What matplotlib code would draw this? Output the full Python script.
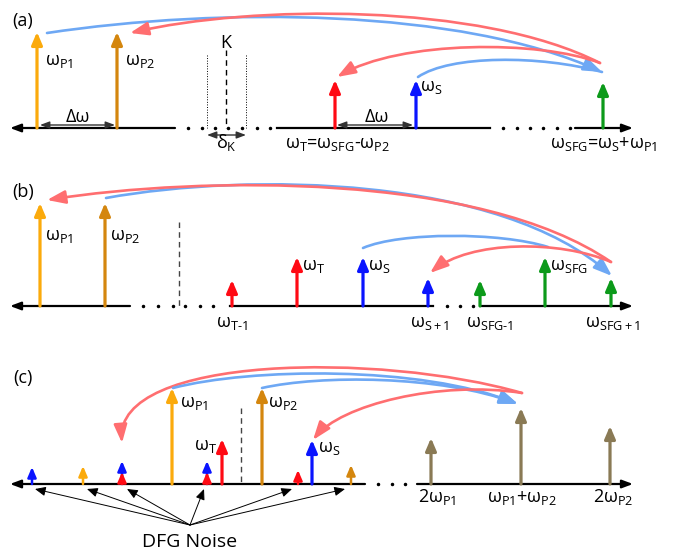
import matplotlib
matplotlib.use('Agg')
import matplotlib.pyplot as plt
from matplotlib.patches import FancyArrowPatch
from matplotlib.path import Path

plt.rcParams['font.family'] = ['Open Sans', 'DejaVu Sans']
plt.rcParams['mathtext.fontset'] = 'custom'
plt.rcParams['mathtext.rm'] = 'Open Sans'
plt.rcParams['mathtext.it'] = 'Open Sans'
plt.rcParams['mathtext.bf'] = 'Open Sans:bold'

# colours of the spectral components
cols = {'P1': '#FBAA0C', 'P2': '#D4860E', 'T': '#FF0A14', 'S': '#0A14FF',
        'SFG': '#0C9A1A', 'SHG': '#8A7A55'}
c_red = '#FF6E70'
c_blue = '#6EA8F4'

# ---- schematic data (picture coordinates, y grows downwards) ----
# panel (a)
a_base = 128
a_x = [37, 117, 335, 416, 603]
a_top = [32, 32, 80, 80, 82]
a_kind = ['P1', 'P2', 'T', 'S', 'SFG']
a_segs = [(175, 10), (277, 490), (575, 633)]
a_dots = [188, 202, 215, 228, 242, 257, 270, 503, 517, 530, 543, 557, 570]

# panel (b)
b_base = 306
b_x = [40, 105, 232, 297, 363, 428, 480, 545, 611]
b_top = [203, 203, 280, 257, 257, 278, 280, 257, 278]
b_kind = ['P1', 'P2', 'T', 'T', 'S', 'S', 'SFG', 'SFG', 'SFG']
b_segs = [(130, 10), (230, 433), (480, 633)]
b_dots = [143, 158, 173, 185, 200, 213, 447, 460, 473]

# panel (c)
c_base = 484
c_x = [172, 222, 262, 312, 431, 521, 610]
c_top = [388, 439, 388, 440, 438, 408, 426]
c_kind = ['P1', 'T', 'P2', 'S', 'SHG', 'SHG', 'SHG']
c_noise_x = [32, 83, 122, 122, 207, 207, 298, 351]
c_noise_top = [467, 466, 461, 472, 461, 472, 470, 465]
c_noise_kind = ['S', 'P1', 'S', 'T', 'S', 'T', 'T', 'P2']
c_segs = [(365, 10), (417, 633)]
c_dots = [378, 392, 405]
dfg_from = (190, 525)
dfg_to_x = [35, 87, 127, 204, 292, 345]
dfg_to_y = 489

# conversion arcs: start, control 1, control 2, end, colour, arrow head?
arcs = [
    # (a)
    ((47, 33), (220, 7), (460, 8), (602, 72), c_blue, True),
    ((600, 63), (480, 2), (250, 5), (130, 33), c_red, True),
    ((600, 63), (540, 40), (400, 40), (337, 77), c_red, True),
    ((418, 77), (450, 55), (540, 55), (602, 72), c_blue, False),
    # (b)
    ((106, 198), (250, 172), (500, 176), (612, 276), c_blue, True),
    ((611, 262), (480, 172), (200, 176), (47, 200), c_red, True),
    ((363, 248), (400, 232), (500, 232), (548, 247), c_blue, False),
    ((611, 262), (560, 240), (470, 240), (430, 273), c_red, True),
    # (c)
    ((522, 393), (380, 352), (115, 355), (122, 443), c_red, True),
    ((173, 388), (250, 368), (420, 365), (518, 404), c_blue, True),
    ((262, 388), (320, 375), (440, 375), (518, 404), c_blue, True),
    ((522, 393), (440, 380), (340, 405), (313, 440), c_red, True),
]

W = 'ω'
labels = [
    ('(a)', 23, 26, 'center'),
    (W + r'$_\mathrm{P1}$', 45, 65, 'left'),
    (W + r'$_\mathrm{P2}$', 125, 65, 'left'),
    ('Δω', 78, 122, 'center'),
    ('Δω', 377, 122, 'center'),
    ('K', 226, 48, 'center'),
    ('δ' + r'$_\mathrm{K}$', 226, 148, 'center'),
    (W + r'$_\mathrm{T}$=' + W + r'$_\mathrm{SFG}$-' + W + r'$_\mathrm{P2}$', 285, 148, 'left'),
    (W + r'$_\mathrm{S}$', 420, 91, 'left'),
    (W + r'$_\mathrm{SFG}$=' + W + r'$_\mathrm{S}$+' + W + r'$_\mathrm{P1}$', 550, 148, 'left'),
    ('(b)', 23, 197, 'center'),
    (W + r'$_\mathrm{P1}$', 45, 240, 'left'),
    (W + r'$_\mathrm{P2}$', 110, 240, 'left'),
    (W + r'$_\mathrm{T\text{-}1}$', 232, 327, 'center'),
    (W + r'$_\mathrm{T}$', 302, 270, 'left'),
    (W + r'$_\mathrm{S}$', 368, 270, 'left'),
    (W + r'$_\mathrm{S+1}$', 430, 327, 'center'),
    (W + r'$_\mathrm{SFG\text{-}1}$', 490, 327, 'center'),
    (W + r'$_\mathrm{SFG}$', 550, 270, 'left'),
    (W + r'$_\mathrm{SFG+1}$', 613, 327, 'center'),
    ('(c)', 23, 383, 'center'),
    (W + r'$_\mathrm{P1}$', 180, 407, 'left'),
    (W + r'$_\mathrm{T}$', 217, 450, 'right'),
    (W + r'$_\mathrm{P2}$', 268, 407, 'left'),
    (W + r'$_\mathrm{S}$', 318, 452, 'left'),
    ('2' + W + r'$_\mathrm{P1}$', 437, 502, 'center'),
    (W + r'$_\mathrm{P1}$+' + W + r'$_\mathrm{P2}$', 522, 502, 'center'),
    ('2' + W + r'$_\mathrm{P2}$', 613, 502, 'center'),
    ('DFG Noise', 190, 547, 'center'),
]

fig = plt.figure(figsize=(6.73, 5.52), dpi=100)
ax = fig.add_axes([0, 0, 1, 1])
ax.set_xlim(0, 673)
ax.set_ylim(552, 0)
ax.axis('off')


def spike(x, y0, y1, color, lw=2.3, ms=10):
    ax.add_patch(FancyArrowPatch((x, y0), (x, y1),
                                 arrowstyle='-|>,head_length=0.75,head_width=0.32',
                                 mutation_scale=ms, lw=lw, color=color,
                                 shrinkA=0, shrinkB=0, zorder=3))


def axis_line(base, segs, dots):
    for x0, x1 in segs:
        if x1 == 10 or x1 == 633:
            ax.add_patch(FancyArrowPatch((x0, base), (x1, base),
                                         arrowstyle='-|>,head_length=0.8,head_width=0.3',
                                         mutation_scale=8, lw=1.6, color='black',
                                         shrinkA=0, shrinkB=0, zorder=2))
        else:
            ax.plot([x0, x1], [base, base], color='black', lw=1.6, zorder=2)
    ax.plot(dots, [base] * len(dots), 'o', ms=1.5, color='black', zorder=2)


def dbl(x0, x1, y):
    ax.add_patch(FancyArrowPatch((x0, y), (x1, y),
                                 arrowstyle='<|-|>,head_length=0.8,head_width=0.3',
                                 mutation_scale=7, lw=1.0, color='#333333',
                                 shrinkA=0, shrinkB=0, zorder=2))


# axes of the three spectra
axis_line(a_base, a_segs, a_dots)
axis_line(b_base, b_segs, b_dots)
axis_line(c_base, c_segs, c_dots)

for x, t, k in zip(a_x, a_top, a_kind):
    spike(x, a_base, t, cols[k])
for x, t, k in zip(b_x, b_top, b_kind):
    spike(x, b_base, t, cols[k])
for x, t, k in zip(c_x, c_top, c_kind):
    spike(x, c_base, t, cols[k])
for x, t, k in zip(c_noise_x, c_noise_top, c_noise_kind):
    spike(x, c_base, t, cols[k], lw=1.8, ms=8)

# markers in (a)
dbl(40, 115, 125)
dbl(337, 413, 125)
ax.plot([226, 226], [50, 128], color='black', lw=1.0, ls=(0, (4, 3)))
ax.plot([207, 207], [55, 128], color='black', lw=0.7, ls=':')
ax.plot([246, 246], [55, 128], color='black', lw=0.7, ls=':')
dbl(207, 246, 135)

# dashed separators in (b) and (c)
ax.plot([179, 179], [222, 306], color='#444444', lw=1.0, ls=(0, (4, 3)))
ax.plot([241, 241], [408, 484], color='#444444', lw=1.0, ls=(0, (4, 3)))

# DFG noise pointers
for x in dfg_to_x:
    ax.add_patch(FancyArrowPatch(dfg_from, (x, dfg_to_y),
                                 arrowstyle='-|>,head_length=0.8,head_width=0.35',
                                 mutation_scale=8, lw=0.7, color='black',
                                 shrinkA=0, shrinkB=0, zorder=2))

# conversion arcs
for p0, c1, c2, p1, col, head in arcs:
    path = Path([p0, c1, c2, p1], [Path.MOVETO, Path.CURVE4, Path.CURVE4, Path.CURVE4])
    style = '-|>,head_length=1.1,head_width=0.4' if head else '-'
    ax.add_patch(FancyArrowPatch(path=path, arrowstyle=style, mutation_scale=10,
                                 lw=1.9, color=col, zorder=4))

for txt, x, y, ha in labels:
    fs = 14 if txt.startswith('DFG') else 13
    ax.text(x, y, txt, ha=ha, va='baseline', fontsize=fs, color='black', zorder=5)

fig.savefig('out.png', dpi=100)
